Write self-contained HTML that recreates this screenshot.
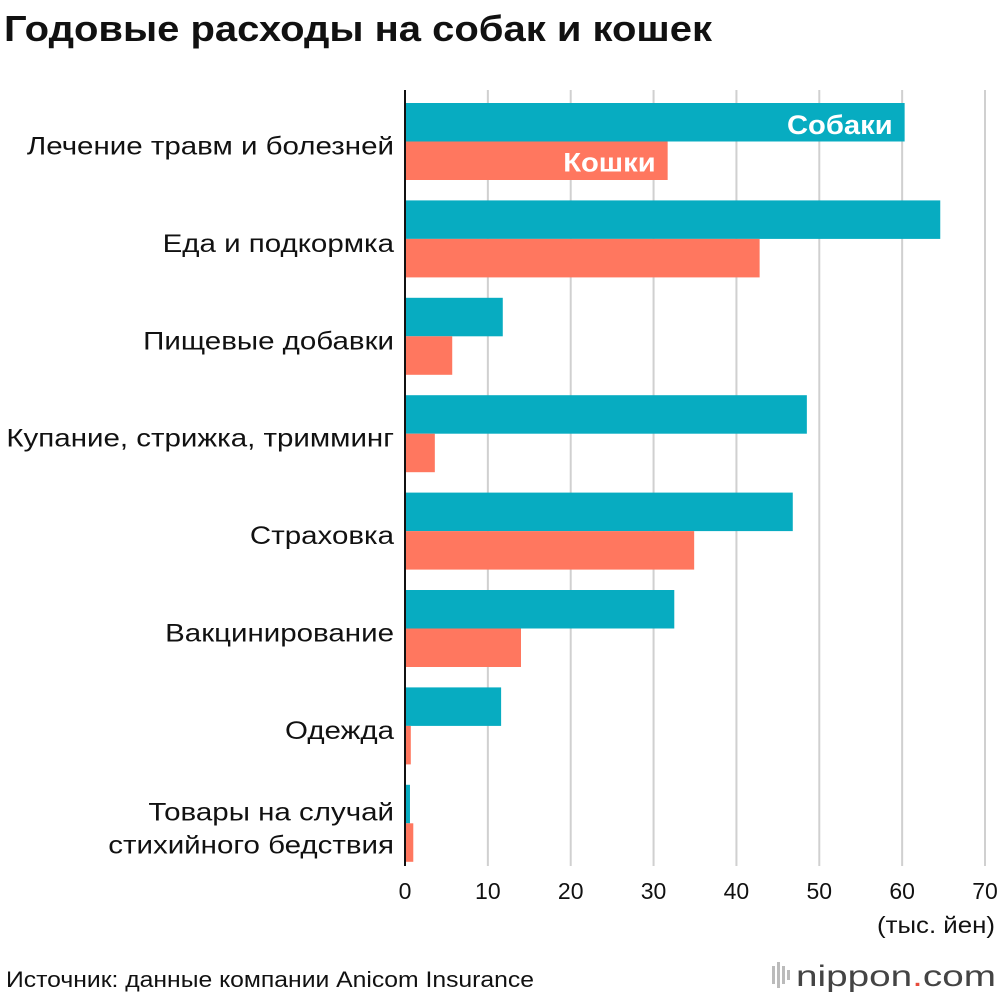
<!DOCTYPE html>
<html><head><meta charset="utf-8"><style>
body{margin:0;background:#fff;font-family:"Liberation Sans","DejaVu Sans",sans-serif;}
</style></head><body>
<svg width="1000" height="996" xmlns="http://www.w3.org/2000/svg">
<text id="title" x="4" y="41" font-size="36" font-weight="bold" fill="#111" textLength="708" lengthAdjust="spacingAndGlyphs">Годовые расходы на собак и кошек</text>
<g id="grid"></g>
<g id="bars"></g>
<g id="labels"></g>
<g id="ticks"></g>
<line x1="405" y1="90" x2="405" y2="866" stroke="#111" stroke-width="2"/>
<text x="995" y="933" font-size="23" text-anchor="end" fill="#111" textLength="118" lengthAdjust="spacingAndGlyphs">(тыс. йен)</text>
<text x="6" y="987" font-size="22" fill="#111" textLength="528" lengthAdjust="spacingAndGlyphs">Источник: данные компании Anicom Insurance</text>
<g>
<rect x="772" y="966" width="3" height="18" fill="#bbb"/><rect x="777" y="962" width="3" height="26" fill="#bbb"/><rect x="782" y="966" width="3" height="18" fill="#bbb"/><rect x="787" y="970" width="3" height="10" fill="#bbb"/>
<text x="796" y="986" font-size="30" fill="#444" textLength="200" lengthAdjust="spacingAndGlyphs">nippon<tspan fill="#e74c3c">.</tspan><tspan fill="#444">com</tspan></text>
</g>
</svg>
<script>
const categories=[["Лечение травм и болезней"],["Еда и подкормка"],["Пищевые добавки"],["Купание, стрижка, тримминг"],["Страховка"],["Вакцинирование"],["Одежда"],["Товары на случай","стихийного бедствия"]];
const dogValues=[60.3,64.6,11.8,48.5,46.8,32.5,11.6,0.6];
const catValues=[31.7,42.8,5.7,3.6,34.9,14.0,0.7,1.0];
const tickValues=[0,10,20,30,40,50,60,70];
const NS="http://www.w3.org/2000/svg";
const x0=405,x1=985,xMax=70;
const xs=v=>x0+(x1-x0)*v/xMax;
const rowTop=i=>103+i*97.4;
const bh=38.5;
function mk(tag,attrs,parent){const e=document.createElementNS(NS,tag);for(const k in attrs)e.setAttribute(k,attrs[k]);document.getElementById(parent).appendChild(e);return e;}
function widen(el,f){const w=el.getComputedTextLength();el.setAttribute('textLength',w*f);el.setAttribute('lengthAdjust','spacingAndGlyphs');}
tickValues.forEach(t=>{
 if(t>0){const l=mk('line',{x1:xs(t),x2:xs(t),y1:90,y2:866,stroke:'#d0d0d0','stroke-width':2},'grid');
 
 }
 const tx=mk('text',{x:xs(t),y:899,'font-size':23,'text-anchor':'middle',fill:'#111'},'ticks');tx.textContent=t;
 
 
});
categories.forEach((c,i)=>{
 const y=rowTop(i);
 const d=mk('rect',{x:x0,y:y,width:xs(dogValues[i])-x0,height:bh,fill:'#07acc1'},'bars');
 
 
 const ct=mk('rect',{x:x0,y:y+bh,width:xs(catValues[i])-x0,height:bh,fill:'#ff775f'},'bars');
 
 
 const cy=y+bh;
 c.forEach((ln,j)=>{
  const yy=c.length===1?cy+13:cy-3+j*33;
  const t=mk('text',{x:394,y:yy,'font-size':25,'text-anchor':'end',fill:'#111'},'labels');
  t.textContent=ln;
  
  
  widen(t,1.18);
 });
});
const l1=mk('text',{x:xs(dogValues[0])-12,y:rowTop(0)+31,'font-size':27,'font-weight':'bold','text-anchor':'end',fill:'#fff'},'labels');l1.textContent='Собаки';


widen(l1,1.08);
const l2=mk('text',{x:xs(catValues[0])-12,y:rowTop(0)+bh+30,'font-size':27,'font-weight':'bold','text-anchor':'end',fill:'#fff'},'labels');l2.textContent='Кошки';


widen(l2,1.08);
</script>
</body></html>
